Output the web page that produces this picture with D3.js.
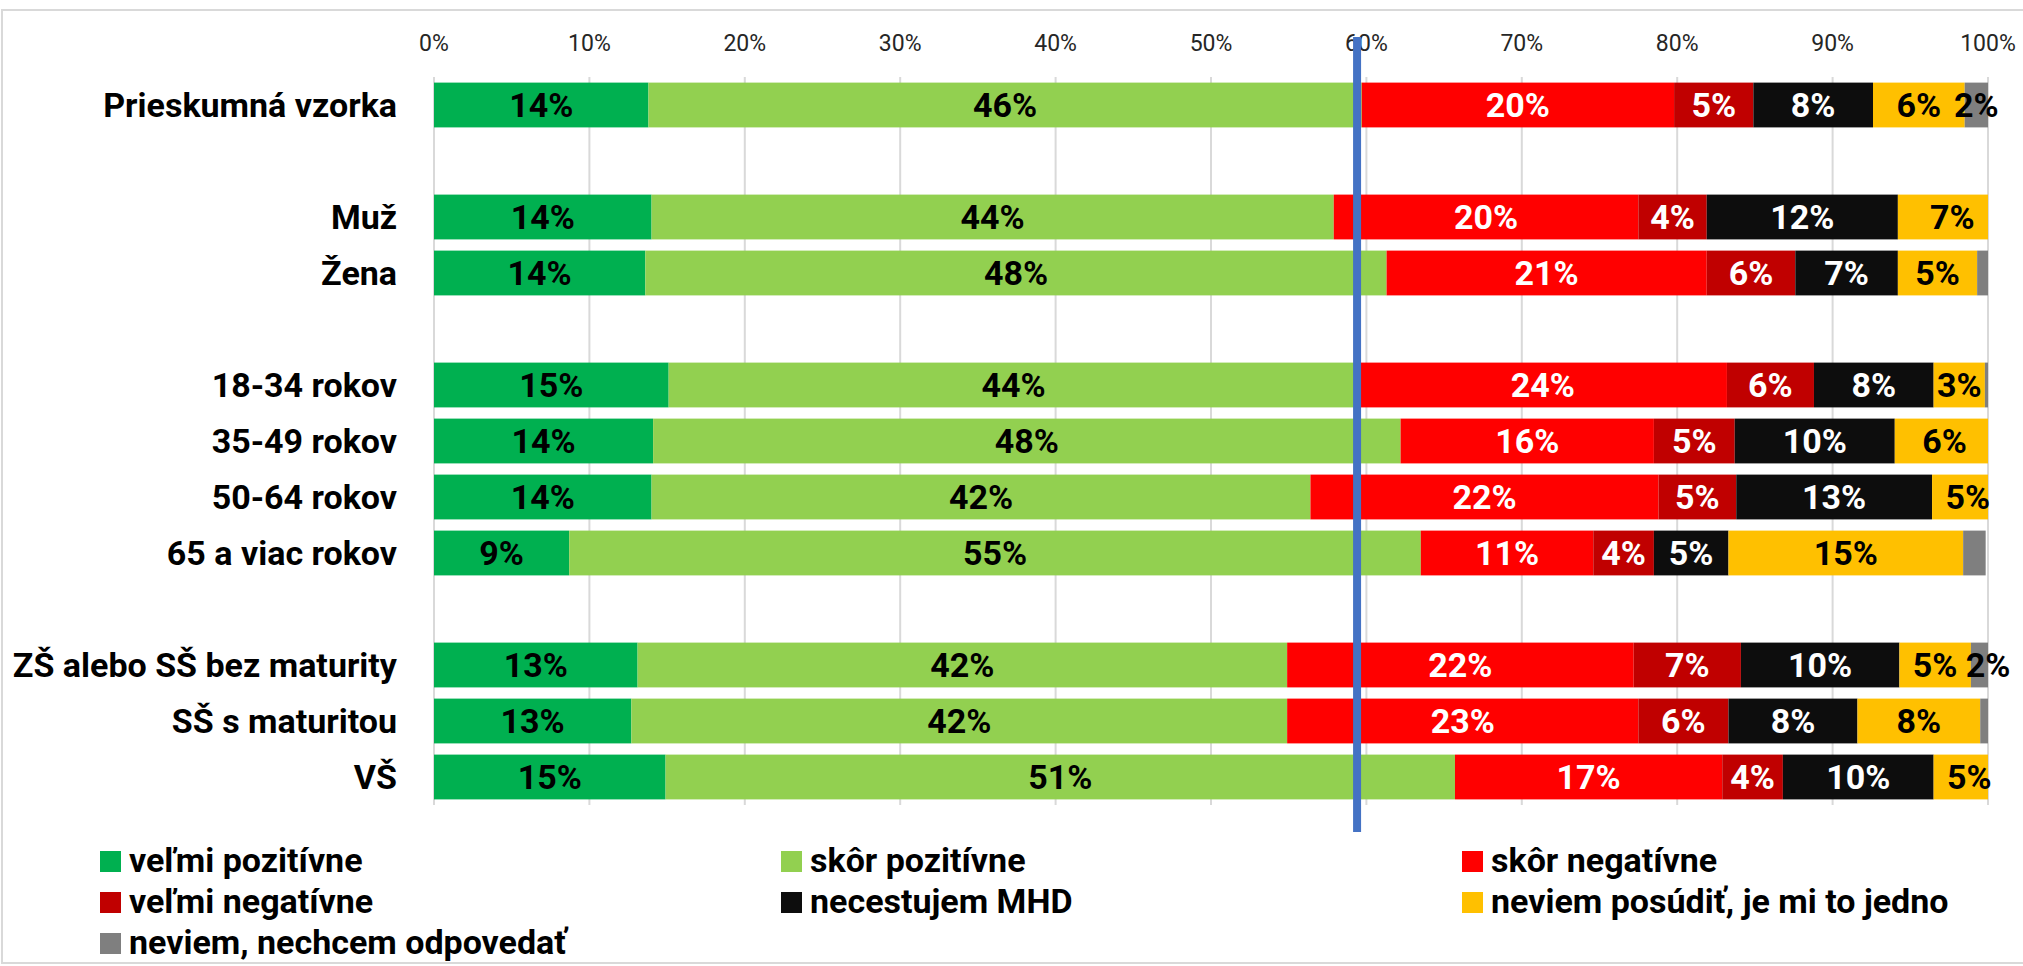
<!DOCTYPE html>
<html>
<head>
<meta charset="utf-8">
<script src="https://cdn.jsdelivr.net/npm/d3@7"></script>
<style>
  body { margin: 0; background: #fff; }
  #vis text { font-family: Roboto, "Liberation Sans", sans-serif; }
</style>
</head>
<body>
<div id="vis"></div>
<script>
// rows of the chart, null = empty gap row
var categories = ["Prieskumná vzorka", null, "Muž", "Žena", null,
  "18-34 rokov", "35-49 rokov", "50-64 rokov", "65 a viac rokov", null,
  "ZŠ alebo SŠ bez maturity", "SŠ s maturitou", "VŠ"];

var seriesNames = ["veľmi pozitívne", "skôr pozitívne", "skôr negatívne",
  "veľmi negatívne", "necestujem MHD", "neviem posúdiť, je mi to jedno",
  "neviem, nechcem odpovedať"];

// values in %, one array per answer
var velmiPozitivne = [13.8, null, 14.0, 13.6, null, 15.1, 14.1, 14.0, 8.7, null, 13.1, 12.7, 14.9];
var skorPozitivne  = [45.9, null, 43.9, 47.7, null, 44.4, 48.1, 42.4, 54.8, null, 41.8, 42.2, 50.8];
var skorNegativne  = [20.1, null, 19.6, 20.6, null, 23.7, 16.3, 22.4, 11.1, null, 22.3, 22.6, 17.2];
var velmiNegativne = [5.1, null, 4.4, 5.7, null, 5.6, 5.2, 5.0, 3.9, null, 6.9, 5.8, 3.9];
var necestujem     = [7.7, null, 12.3, 6.6, null, 7.7, 10.3, 12.6, 4.8, null, 10.2, 8.3, 9.7];
var neviemPosudit  = [5.9, null, 7.0, 5.1, null, 3.3, 6.4, 4.6, 15.1, null, 4.6, 7.9, 4.6];
var nechcem        = [1.5, null, 0, 0.8, null, 0.4, 0, 0, 1.45, null, 2.2, 0.6, 0];

var ticks = [0, 10, 20, 30, 40, 50, 60, 70, 80, 90, 100];
var refLine = 59.4;

var colors = ["#00B050", "#92D050", "#FF0000", "#C00000", "#0D0D0D", "#FFC000", "#7F7F7F"];
var labelColors = ["#000", "#000", "#fff", "#fff", "#fff", "#000", "#000"];

var allSeries = [velmiPozitivne, skorPozitivne, skorNegativne, velmiNegativne,
  necestujem, neviemPosudit, nechcem];

drawChart();

function drawChart(){
  console.log("Drawing chart");
  var width = 2023, height = 966;

  var svg = d3.select("#vis")
    .append("svg")
      .attr("width", width)
      .attr("height", height);

  // light chart border
  svg.append("rect")
    .attr("x", 2).attr("y", 10)
    .attr("width", 2030).attr("height", 953)
    .attr("fill", "#fff")
    .attr("stroke", "#D9D9D9")
    .attr("stroke-width", 2);

  var xScale = d3.scaleLinear()
    .domain([0, 100])
    .range([434, 1988]);

  var yScale = d3.scaleBand()
    .domain(d3.range(categories.length))
    .range([77, 805])
    .paddingInner(0.2)
    .paddingOuter(0.1);

  // gridlines
  svg.selectAll(".grid")
    .data(ticks)
    .enter()
    .append("line")
      .attr("class", "grid")
      .attr("x1", function(d){ return xScale(d) })
      .attr("x2", function(d){ return xScale(d) })
      .attr("y1", 77)
      .attr("y2", 805)
      .attr("stroke", "#D9D9D9")
      .attr("stroke-width", 2);

  // tick labels on top
  svg.selectAll(".tick-lab")
    .data(ticks)
    .enter()
    .append("text")
      .attr("class", "tick-lab")
      .attr("x", function(d){ return xScale(d) })
      .attr("y", 51)
      .attr("text-anchor", "middle")
      .style("font-size", "23px")
      .style("fill", "#262626")
      .text(function(d){ return d + "%" });

  // stacked segments
  var segs = [];
  categories.forEach(function(c, i){
    if (c === null) return;
    var x0 = 0;
    allSeries.forEach(function(s, k){
      var v = s[i];
      segs.push({row: i, k: k, v: v, x0: x0, x1: x0 + v});
      x0 += v;
    });
  });

  svg.append("clipPath")
    .attr("id", "plotClip")
    .append("rect")
      .attr("x", xScale(0)).attr("y", 0)
      .attr("width", xScale(100) - xScale(0))
      .attr("height", height);

  svg.append("g")
    .attr("clip-path", "url(#plotClip)")
    .selectAll("rect")
    .data(segs.filter(function(d){ return d.v > 0 }))
    .enter()
    .append("rect")
      .attr("x", function(d){ return xScale(d.x0) })
      .attr("y", function(d){ return yScale(d.row) })
      .attr("width", function(d){ return xScale(d.x1) - xScale(d.x0) })
      .attr("height", yScale.bandwidth())
      .attr("fill", function(d){ return colors[d.k] });

  svg.selectAll(".bar-lab")
    .data(segs.filter(function(d){ return Math.round(d.v) >= 2 }))
    .enter()
    .append("text")
      .attr("class", "bar-lab")
      .attr("x", function(d){ return xScale((d.x0 + d.x1) / 2) })
      .attr("y", function(d){ return yScale(d.row) + yScale.bandwidth() / 2 })
      .attr("dy", "0.36em")
      .attr("text-anchor", "middle")
      .style("font-size", "34px")
      .style("font-weight", "bold")
      .style("fill", function(d){ return labelColors[d.k] })
      .text(function(d){ return Math.round(d.v) + "%" });

  // category labels
  svg.selectAll(".cat-lab")
    .data(categories.map(function(c, i){ return {name: c, row: i} })
      .filter(function(d){ return d.name !== null }))
    .enter()
    .append("text")
      .attr("class", "cat-lab")
      .attr("x", 397)
      .attr("y", function(d){ return yScale(d.row) + yScale.bandwidth() / 2 })
      .attr("dy", "0.36em")
      .attr("text-anchor", "end")
      .style("font-size", "34px")
      .style("font-weight", "bold")
      .style("fill", "#000")
      .text(function(d){ return d.name });

  // blue reference line
  svg.append("line")
    .attr("x1", xScale(refLine))
    .attr("x2", xScale(refLine))
    .attr("y1", 37)
    .attr("y2", 832)
    .attr("stroke", "#4472C4")
    .attr("stroke-width", 8);

  // legend, 3 columns
  var legX = [100, 781, 1462];
  var legend = svg.selectAll(".leg")
    .data(seriesNames)
    .enter()
    .append("g")
      .attr("class", "leg")
      .attr("transform", function(d, i){
        return "translate(" + legX[i % 3] + "," + (851 + Math.floor(i / 3) * 41) + ")";
      });

  legend.append("rect")
    .attr("width", 21)
    .attr("height", 21)
    .attr("fill", function(d, i){ return colors[i] });

  legend.append("text")
    .attr("x", 29)
    .attr("y", 21)
    .style("font-size", "34px")
    .style("font-weight", "bold")
    .style("fill", "#000")
    .text(function(d){ return d });
}
</script>
</body>
</html>
